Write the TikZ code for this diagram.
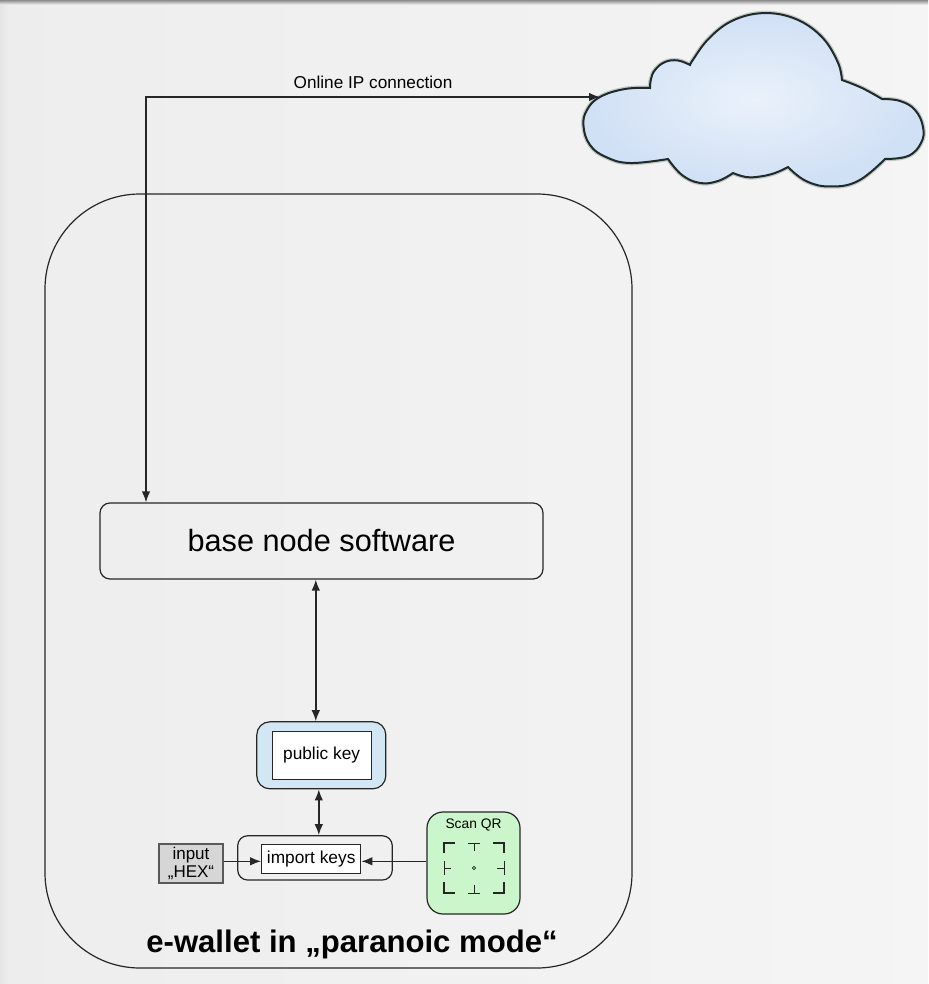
\documentclass[tikz,border=0pt]{standalone}
\usepackage{fontspec}
\setmainfont{Liberation Sans}
\usetikzlibrary{arrows.meta,calc}
\definecolor{linec}{HTML}{262626}
\definecolor{pkblue}{HTML}{D3E6F4}
\definecolor{qrgreen}{HTML}{CBF5CB}
\definecolor{hexgray}{HTML}{D6D6D6}
\definecolor{cloudblue}{HTML}{D0E0F5}
\definecolor{cloudline}{HTML}{1E2B2B}
\begin{document}
\begin{tikzpicture}[x=1pt,y=-1pt,
  box/.style={draw=linec, line width=1.2pt, rounded corners=#1, inner sep=0pt},
  box/.default=10pt,
  plainbox/.style={draw=linec, line width=1.1pt, fill=white, inner sep=0pt},
  arr/.style={draw=linec, line width=1.5pt, -{Latex[length=11pt,width=8.5pt]}},
  dblarr/.style={draw=linec, line width=1.5pt, {Latex[length=11pt,width=8.5pt]}-{Latex[length=11pt,width=8.5pt]}},
  qrthick/.style={line width=2.6pt, draw=linec},
  qrthin/.style={line width=0.6pt, draw=linec}
]
% background
\useasboundingbox (0,0) rectangle (928,984);
\shade[left color=black!7, middle color=white, right color=black!4] (0,0) rectangle (928,984);
\shade[left color=black!10, right color=black!7] (0,0) rectangle (9,984);
\shade[top color=black!45, bottom color=black!3] (0,0) rectangle (928,5);

% outer e-wallet frame
\node[box=95pt, minimum width=587pt, minimum height=774pt] (wallet) at (338.5,581) {};
\node[font=\bfseries\fontsize{31.1}{35}\selectfont] (title) at (352,944) {e-wallet in „paranoic mode“};

% cloud: soft halo
\draw[line width=4.5pt, draw=cloudline, draw opacity=0.22]
  plot[smooth, tension=0.7] coordinates {(650,88) (625,89) (600,97) (587,110) (583.5,126) (590,145) (606,157) (630,163) (668,159)}
  -- plot[smooth, tension=0.7] coordinates {(668,159) (682,175) (700,183) (718,181) (733,173)}
  -- plot[smooth, tension=0.7] coordinates {(733,173) (746,177) (760,176.5) (775,173) (788,167)}
  -- plot[smooth, tension=0.7] coordinates {(788,167) (806,181) (830,186.5) (858,181) (885,159)}
  -- plot[smooth, tension=0.7] coordinates {(885,159) (908,156) (921,143) (923,127) (915,110) (900,101) (882,99)}
  -- plot[smooth, tension=0.7] coordinates {(882,99) (862,88) (842,80)}
  -- plot[smooth, tension=0.6] coordinates {(842,80) (838.4,63.7) (825,40.5) (804.5,23.3) (779.4,14.2) (752.6,14.2) (727.5,23.3) (707,40.5) (692.8,60) (690,65)}
  -- plot[smooth, tension=0.7] coordinates {(690,65) (678,60.5) (665,62) (655,70) (651,79) (650,88)}
  -- cycle;
% cloud: body
\draw[line width=2pt, draw=cloudline, inner color=white!55!cloudblue, outer color=cloudblue]
  plot[smooth, tension=0.7] coordinates {(650,88) (625,89) (600,97) (587,110) (583.5,126) (590,145) (606,157) (630,163) (668,159)}
  -- plot[smooth, tension=0.7] coordinates {(668,159) (682,175) (700,183) (718,181) (733,173)}
  -- plot[smooth, tension=0.7] coordinates {(733,173) (746,177) (760,176.5) (775,173) (788,167)}
  -- plot[smooth, tension=0.7] coordinates {(788,167) (806,181) (830,186.5) (858,181) (885,159)}
  -- plot[smooth, tension=0.7] coordinates {(885,159) (908,156) (921,143) (923,127) (915,110) (900,101) (882,99)}
  -- plot[smooth, tension=0.7] coordinates {(882,99) (862,88) (842,80)}
  -- plot[smooth, tension=0.6] coordinates {(842,80) (838.4,63.7) (825,40.5) (804.5,23.3) (779.4,14.2) (752.6,14.2) (727.5,23.3) (707,40.5) (692.8,60) (690,65)}
  -- plot[smooth, tension=0.7] coordinates {(690,65) (678,60.5) (665,62) (655,70) (651,79) (650,88)}
  -- cycle;
\coordinate (cloudL) at (600,97);

% base node software
\node[box=10pt, minimum width=443pt, minimum height=76pt, font=\fontsize{30.7}{34}\selectfont] (base) at (321.5,541) {base node software};

% public key
\node[box=13pt, fill=pkblue, minimum width=129pt, minimum height=67pt] (pkout) at (321.3,755.3) {};
\node[plainbox, minimum width=99pt, minimum height=48pt, font=\fontsize{17.3}{20}\selectfont] (pk) at (321.6,755.2) {public key};

% import keys
\node[box=10pt, minimum width=154.6pt, minimum height=44.3pt] (ikout) at (315,857.9) {};
\node[plainbox, minimum width=99pt, minimum height=29pt, font=\fontsize{17.3}{20}\selectfont] (ik) at (311.2,858.8) {import keys};

% input HEX
\node[draw=black!65, line width=1.1pt, fill=hexgray, inner sep=0pt, minimum width=64pt, minimum height=39pt,
      font=\fontsize{17}{18.5}\selectfont, align=center] (hex) at (191,863.5) {input\\„HEX“};

% Scan QR
\node[box=16pt, fill=qrgreen, minimum width=93pt, minimum height=102pt] (qr) at (473.5,863) {};
\node[font=\fontsize{13.8}{16}\selectfont] (qrlbl) at (473.5,825) {Scan QR};
\draw[qrthick] (444,853) -- (444,843) -- (455,843);
\draw[qrthick] (493,843) -- (504,843) -- (504,853);
\draw[qrthick] (444,882) -- (444,893) -- (455,893);
\draw[qrthick] (493,893) -- (504,893) -- (504,882);
\draw[qrthin] (468,843) -- (480,843) (474,843) -- (474,851);
\draw[qrthin] (468,893) -- (480,893) (474,893) -- (474,885);
\draw[qrthin] (444,861) -- (444,875) (444,868) -- (451,868);
\draw[qrthin] (504,861) -- (504,875) (504,868) -- (497,868);
\draw[qrthin] (474,868) circle[radius=1.6pt];

% connectors
\coordinate (bend) at (146,97);
\draw[dblarr] (bend |- base.north) -- (bend) -- node[above=4pt, font=\fontsize{17.2}{20}\selectfont] (lbl) {Online IP connection} (cloudL);
\draw[dblarr] ([xshift=-5.5pt]pkout.north |- base.south) -- ([xshift=-5.5pt]pkout.north);
\draw[dblarr] ([xshift=-2.5pt]pkout.south) -- ([xshift=-2.5pt]pkout.south |- ikout.north);
\coordinate (ikinL) at ([yshift=-2.5pt]ik.west);
\coordinate (ikinR) at ([yshift=-2.5pt]ik.east);
\draw[arr] (hex.east |- ikinL) -- (ikinL);
\draw[arr] (qr.west |- ikinR) -- (ikinR);
\end{tikzpicture}
\end{document}
